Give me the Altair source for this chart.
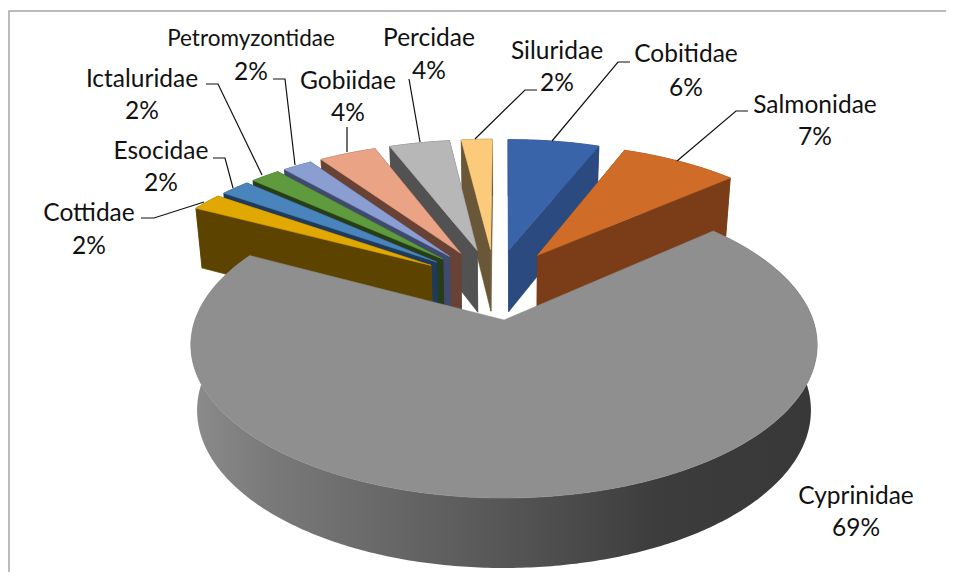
import numpy as np
import pandas as pd
import altair as alt

FAMILIES = ["Cobitidae", "Salmonidae", "Cyprinidae", "Cottidae", "Esocidae",
            "Ictaluridae", "Petromyzontidae", "Gobiidae", "Percidae", "Siluridae"]
PERCENT = [6, 7, 69, 2, 2, 2, 2, 4, 4, 2]
SHARES = [5.9, 7.6, 69.2, 2.0, 1.9, 1.9, 1.9, 3.7, 3.9, 2.0]
TOP_COLORS = ["#3A64AA", "#CF6D28", "#8F8F8F", "#E0A800", "#4A84BC",
              "#5F9A3E", "#8A9ED2", "#EBA385", "#B7B7B7", "#FBCB7B"]
DARK_COLORS = ["#2B4A80", "#7A3D17", "#3A3A3A", "#5C4400", "#1F3A5A",
               "#263D18", "#3F4A6E", "#694236", "#525252", "#6A5737"]
DRAW_ORDER = [9, 0, 8, 1, 7, 6, 5, 4, 3, 2]

LABEL_X = [686, 815, 856, 89, 161, 142, 251, 348, 429, 557]
LABEL_Y = [53, 104, 495, 212, 150, 78, 38, 80, 37, 50]
PCT_Y = [87, 136, 527, 245, 182, 110, 71, 112, 70, 82]
LEADERS = [
    [(630, 62), (618, 62), (552, 141)],
    [(748, 111), (736, 111), (677, 161)],
    [(141, 218), (154, 218), (204, 202)],
    [(213, 158), (225, 158), (233, 188)],
    [(206, 84), (218, 84), (262, 175)],
    [(273, 79), (285, 79), (295, 165)],
    [(347, 127), (347, 152)],
    [(409, 79), (420, 142)],
    [(537, 90), (525, 90), (475, 139)],
]
FRAME = [(9, 572), (9, 11), (946, 11)]
WALL_STOPS = [(0.0, "#8C8C8C"), (0.12, "#7A7A7A"), (0.5, "#565656"), (0.75, "#3C3C3C"), (1.0, "#383838")]

CX, CY, F, G, K = 504.0, 320.0, 309.0, 149.0, 0.163
EXPLODE = 0.2575


def unit(deg):
    r = np.radians(deg)
    return np.array([np.sin(r), np.cos(r)])


def top(p):
    s = 1 / (1 + K * p[1])
    return CX + F * p[0] * s, CY - G * p[1] * s


def bottom(p):
    x, y = top(p)
    return CX + (x - CX) * 0.98, y + 64.5 - 5.5 * p[1]


def polygon_rows(store, points, color):
    pid = f"p{len(set(r['poly'] for r in store)):05d}"
    pts = list(points) + [points[0]]
    for j, (x, y) in enumerate(pts):
        store.append({"x": x, "y": y, "poly": pid, "ord": j, "fill": color})


back_rows, wall_rows, front_rows = [], [], []
cum = np.cumsum([0] + SHARES) * 3.6
mids = (cum[:-1] + cum[1:]) / 2
origin = -EXPLODE * unit(mids[2])

for i in DRAW_ORDER:
    a0, a1 = cum[i], cum[i + 1]
    apex = origin + EXPLODE * unit(mids[i])
    angs = np.linspace(a0, a1, max(8, int((a1 - a0) * 1.5)))
    rim = [apex + unit(a) for a in angs]
    if i == 2:
        polygon_rows(wall_rows, [top(p) for p in rim] + [bottom(p) for p in rim[::-1]], "wall")
        polygon_rows(front_rows, [top(apex)] + [top(p) for p in rim], TOP_COLORS[i])
        continue
    for p in (rim[0], rim[-1]):
        polygon_rows(back_rows, [top(apex), top(p), bottom(p), bottom(apex)], DARK_COLORS[i])
    polygon_rows(back_rows, [top(p) for p in rim] + [bottom(p) for p in rim[::-1]], DARK_COLORS[i])
    polygon_rows(back_rows, [top(apex)] + [top(p) for p in rim], TOP_COLORS[i])

XS = alt.Scale(domain=[8, 946], range=[0, 938], nice=False, zero=False)
YS = alt.Scale(domain=[8, 572], range=[0, 564], nice=False, zero=False)
X = alt.X("x:Q", scale=XS, axis=None)
Y = alt.Y("y:Q", scale=YS, axis=None)


def solid(rows):
    return alt.Chart(pd.DataFrame(rows)).mark_line(strokeWidth=0.6).encode(
        x=X, y=Y, order="ord:Q", detail="poly:N",
        fill=alt.Fill("fill:N", scale=None),
        stroke=alt.Stroke("fill:N", scale=None),
    )


wall_fill = {"gradient": "linear", "x1": 0, "y1": 0, "x2": 1, "y2": 0,
             "stops": [{"offset": o, "color": c} for o, c in WALL_STOPS]}
wall = alt.Chart(pd.DataFrame(wall_rows)).mark_line(fill=wall_fill, strokeWidth=0).encode(
    x=X, y=Y, order="ord:Q", detail="poly:N")

line_rows = []
for k, path in enumerate(LEADERS + [FRAME]):
    for j, (x, y) in enumerate(path):
        line_rows.append({"x": x, "y": y, "line": k, "ord": j,
                          "kind": "frame" if k == len(LEADERS) else "leader"})
lines = pd.DataFrame(line_rows)
leader = alt.Chart(lines[lines.kind == "leader"]).mark_line(color="#111111", strokeWidth=1.2).encode(
    x=X, y=Y, order="ord:Q", detail="line:N")
frame = alt.Chart(lines[lines.kind == "frame"]).mark_line(color="#A6A6A6", strokeWidth=1.5).encode(
    x=X, y=Y, order="ord:Q", detail="line:N")

text_rows = []
for i, name in enumerate(FAMILIES):
    size = "small" if name == "Petromyzontidae" else "big"
    text_rows.append({"x": LABEL_X[i], "y": LABEL_Y[i], "t": name, "size": size})
    text_rows.append({"x": LABEL_X[i], "y": PCT_Y[i], "t": f"{PERCENT[i]}%", "size": "big"})
texts = pd.DataFrame(text_rows)
big = alt.Chart(texts[texts["size"] == "big"]).mark_text(
    font="Lato", fontSize=24.5, dy=1.5, color="#111111", align="center", baseline="middle"
).encode(x=X, y=Y, text="t:N")
small = alt.Chart(texts[texts["size"] == "small"]).mark_text(
    font="Lato", fontSize=22.5, dy=1, color="#111111", align="center", baseline="middle"
).encode(x=X, y=Y, text="t:N")

chart = alt.layer(
    frame, solid(back_rows), wall, solid(front_rows), leader, big, small
).properties(
    width=938, height=564, padding=0, background="white",
    autosize=alt.AutoSizeParams(type="none"),
).configure_view(stroke=None)

chart.save("out.html", embed_options={"renderer": "svg", "actions": False})
